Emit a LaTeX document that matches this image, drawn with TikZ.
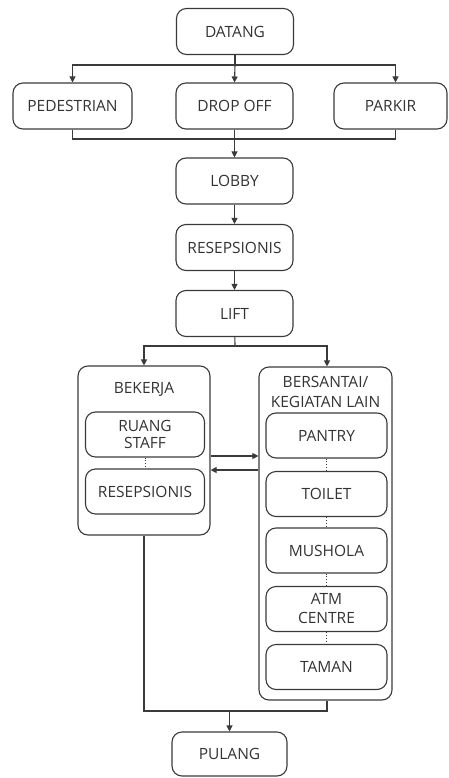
\documentclass[tikz,border=0pt]{standalone}
\usepackage{fontspec}
\setmainfont{Open Sans}
\usetikzlibrary{arrows.meta}
\definecolor{linegray}{HTML}{3A3A3A}
\definecolor{textgray}{HTML}{333333}
\begin{document}
\begin{tikzpicture}[x=1pt,y=-1pt,
  box/.style={draw=linegray, line width=1.1pt, rounded corners=10pt,
    minimum width=117pt, minimum height=46pt, inner sep=0pt, align=center,
    font=\fontsize{15.5}{17.5}\selectfont, text=textgray},
  inbox/.style={box, minimum width=119pt, minimum height=45pt},
  group/.style={draw=linegray, line width=1.1pt, rounded corners=10pt, inner sep=0pt},
  lbl/.style={inner sep=0pt, align=center, font=\fontsize{15.5}{20}\selectfont, text=textgray},
  flow/.style={draw=linegray, line width=1.1pt, -{Triangle[length=6pt,width=6pt]}},
  link/.style={draw=linegray, line width=1.1pt},
  tie/.style={draw=linegray, line width=0.9pt, dotted}
]
\useasboundingbox (0,0) rectangle (448,778);

% arrival and access modes
\node[box] (datang) at (235,31.5) {DATANG};
\node[box, minimum width=119pt] (ped) at (72.5,106) {PEDESTRIAN};
\node[box] (drop) at (234.5,106) {DROP OFF};
\node[box, minimum width=113pt] (parkir) at (390.5,106) {PARKIR};

% main entrance sequence
\node[box] (lobby) at (234.5,181) {LOBBY};
\node[box] (resep) at (234.5,247.5) {RESEPSIONIS};
\node[box] (lift) at (234.5,313.5) {LIFT};

% work group
\node[group, minimum width=132pt, minimum height=169pt] (bekerja) at (144,450.5) {};
\node[lbl] (bekerjalbl) at (144,389) {BEKERJA};
\node[inbox] (ruang) at (145,434.5) {RUANG\\STAFF};
\node[inbox] (resepkerja) at (145,491.5) {RESEPSIONIS};

% leisure group
\node[group, minimum width=133pt, minimum height=333pt] (santai) at (325.5,533.5) {};
\node[lbl] (santailbl) at (325.5,392) {BERSANTAI/\\KEGIATAN LAIN};
\node[inbox, minimum width=121pt] (pantry) at (326.5,435.5) {PANTRY};
\node[inbox, minimum width=121pt] (toilet) at (326.5,494) {TOILET};
\node[inbox, minimum width=121pt] (mushola) at (326.5,550.5) {MUSHOLA};
\node[inbox, minimum width=121pt, font=\fontsize{15.5}{19}\selectfont] (atm) at (326.5,609) {ATM\\CENTRE};
\node[inbox, minimum width=121pt] (taman) at (326.5,667) {TAMAN};

% exit
\node[box, minimum width=115pt, minimum height=44pt] (pulang) at (229.5,754) {PULANG};

% split after arrival
\coordinate (split1) at (235,65);
\draw[link] (datang) -- (split1);
\draw[flow] (split1) -| (ped.north);
\draw[flow] (split1) -- (drop.north);
\draw[flow] (split1) -| ([xshift=5pt]parkir.north);

% merge into lobby
\coordinate (join1) at (235,139);
\draw[link] (ped.south) |- (join1);
\draw[link] ([xshift=5pt]parkir.south) |- (join1);
\draw[flow] (drop) -- (lobby);

\draw[flow] (lobby) -- (resep);
\draw[flow] (resep) -- (lift);

% split after lift
\coordinate (split2) at (235,346);
\draw[link] (lift) -- (split2);
\draw[flow] (split2) -| (bekerja.north);
\draw[flow] (split2) -| ([xshift=1.5pt]santai.north);

% two-way link between the groups
\coordinate (cross1) at (0,456);
\coordinate (cross2) at (0,470);
\draw[flow] (bekerja.east |- cross1) -- (santai.west |- cross1);
\draw[flow] (santai.west |- cross2) -- (bekerja.east |- cross2);

% ties inside the groups
\draw[tie] (ruang) -- (resepkerja);
\draw[tie] (pantry) -- (toilet);
\draw[tie] (toilet) -- (mushola);
\draw[tie] (mushola) -- (atm);
\draw[tie] (atm) -- (taman);

% merge into exit
\coordinate (join2) at (229.5,711);
\draw[link] (bekerja.south) |- (join2);
\draw[link] ([xshift=1.5pt]santai.south) |- (join2);
\draw[flow] (join2) -- (pulang.north);
\end{tikzpicture}
\end{document}
